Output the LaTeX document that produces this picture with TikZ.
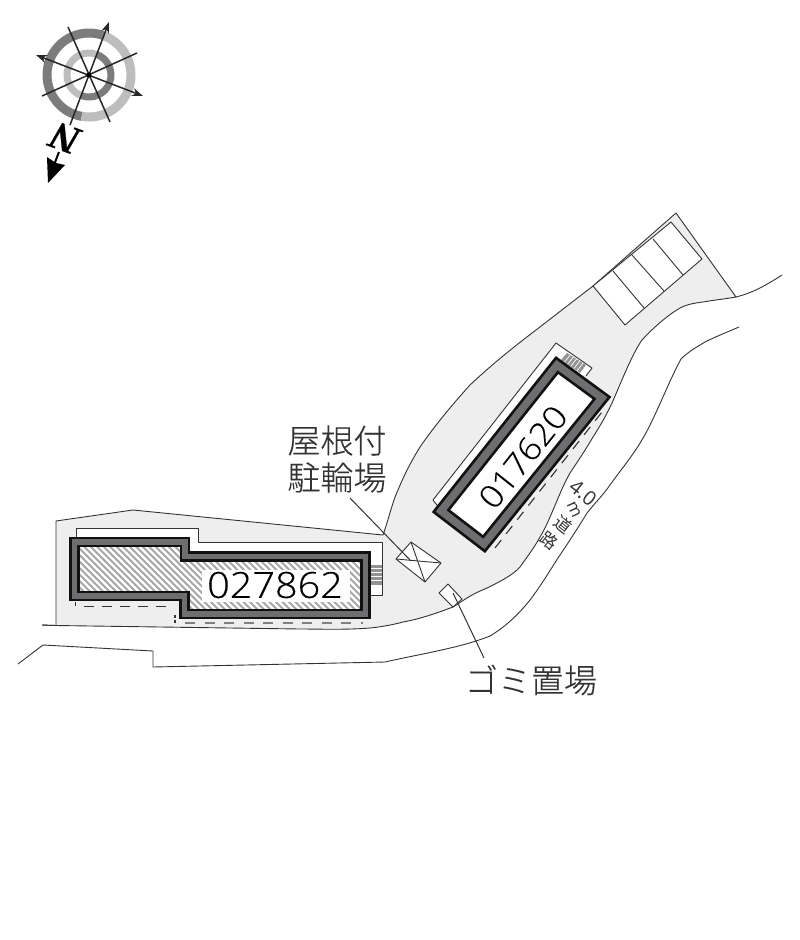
\documentclass[tikz,border=0pt]{standalone}
\usepackage{fontspec}
\setmainfont{Open Sans}
\newfontfamily\cjk[FakeBold=0.25]{Noto Sans CJK JP Light}
\newfontfamily\cjksmall{Noto Sans CJK JP}
\newfontfamily\numfont[FakeStretch=1.1,FakeBold=0.3]{Open Sans Light}
\newfontfamily\northfont[BoldFont=*,ItalicFont=*,FakeBold=0.6]{Liberation Serif Bold Italic}
\usetikzlibrary{arrows.meta,calc}
\definecolor{siteg}{HTML}{EEEEEE}
\definecolor{ink}{HTML}{333333}
\definecolor{walldark}{HTML}{111111}
\definecolor{wallg}{HTML}{6E6E70}
\definecolor{ringd}{HTML}{7C7C7C}
\definecolor{ringl}{HTML}{BDBDBD}
\tikzset{
  thinline/.style={draw=ink,line width=0.9pt,line join=round},
  leader/.style={draw=ink,line width=1pt},
  dashline/.style={draw=ink,line width=1.1pt,dash pattern=on 10pt off 8pt},
  softdash/.style={draw=gray,line width=1.8pt,dash pattern=on 10pt off 9.5pt},
  wallouter/.style={draw=walldark,line width=#1,line join=miter,miter limit=10},
  wallinner/.style={draw=wallg,line width=#1,line join=miter,miter limit=10},
  callout/.style={font=\cjk\fontsize{33}{38}\selectfont,text=ink,inner sep=0pt,align=center},
  numlabel/.style={font=\numfont\fontsize{#1}{40}\selectfont,text=black,inner sep=0pt},
  roadtext/.style={font=\cjksmall\fontsize{17}{18}\selectfont,text=ink,inner sep=0pt},
  roadlatin/.style={font=\fontsize{#1}{22}\selectfont,text=ink,inner sep=0pt},
  compline/.style={draw=black!85,line width=1.5pt},
  comparrow/.style={draw=black!85,line width=1.5pt,-{Stealth[length=11pt,width=8pt]}},
}
\def\topedge{(383,535) .. controls (389,518) and (392,503) .. (398,490) .. controls (405,473) and (412,460) .. (420,447) .. controls (436,424) and (452,405) .. (470,385) .. controls (487,369) and (505,354) .. (523,340) -- (593,286) -- (676,213) -- (736,297)}
\def\roadin{ .. controls (725,299) and (714,300) .. (703,302) .. controls (695,303) and (688,304) .. (680,308) .. controls (668,315) and (654,327) .. (642,340) .. controls (632,354) and (620,385) .. (612,403) .. controls (606,416) and (600,426) .. (593,437) .. controls (586,449) and (578,461) .. (570,473) .. controls (560,490) and (550,521) .. (540,537) .. controls (534,548) and (527,557) .. (520,567) .. controls (512,576) and (497,583) .. (487,588) .. controls (480,591) and (473,594) .. (467,598) .. controls (462,601) and (458,604) .. (453,607) .. controls (437,613) and (420,619) .. (403,622) .. controls (392,625) and (380,627) .. (370,628) .. controls (345,630) and (320,629) .. (300,629) -- (230,628) -- (56,625.5)}
\begin{document}
\begin{tikzpicture}[x=1pt,y=-1pt]
\useasboundingbox (0,0) rectangle (800,940);
% site
\fill[siteg] \topedge \roadin -- (56,521) -- (133,510) -- cycle;
\draw[thinline] (42,625) -- (56,625.5) -- (56,521) -- (133,510) -- (383,535);
\draw[thinline] \topedge \roadin -- (42,625);
\draw[thinline] (736,297) .. controls (752,293) and (765,286) .. (782,275);
% far road edge
\draw[thinline] (739,327) .. controls (725,333) and (715,337) .. (705,342) .. controls (695,348) and (688,352) .. (681,359) .. controls (672,375) and (660,405) .. (650,425) .. controls (638,450) and (622,468) .. (610,485) .. controls (603,495) and (595,503) .. (587,513) .. controls (578,528) and (568,543) .. (558,558) .. controls (549,572) and (540,587) .. (530,600) .. controls (518,615) and (505,627) .. (490,636) .. controls (460,648) and (420,654) .. (385,662) -- (153,667) -- (153,651) -- (43,645) -- (18,664);
% parking
\path[fill=white] (593,286) -- (625,325) -- (702,259) -- (671,222) -- cycle;
\draw[thinline] (593,286) -- (625,325) -- (702,259) -- (671,222) -- cycle;
\draw[thinline] (613,271) -- (644,308);
\draw[thinline] (632,255) -- (664,291);
\draw[thinline] (653,239) -- (683,275);
% building 1 surroundings
\path[fill=white] (433,500) -- (556,343) -- (592,368) -- (586,376) -- (557,365) -- (441,511) -- cycle;
\draw[thinline] (440,509) -- (433,500) -- (556,343) -- (592,368) -- (586,376);
\fill[gray!85] (567,353) -- (586,365) -- (580,373) -- (561,360) -- cycle;
\foreach \t in {0.17,0.34,0.5,0.67,0.84}{
  \draw[white,line width=0.7pt] ($(567,353)!\t!(586,365)$) -- ($(561,360)!\t!(580,373)$);
}
\draw[dashline] (495,548) -- (602,412);
\fill[white] (557,365) -- (602,398) -- (484,544) -- (441,511) -- cycle;
\draw[wallouter=13pt] (557,365) -- (602,398) -- (484,544) -- (441,511) -- cycle;
\draw[wallinner=7.5pt] (557,365) -- (602,398) -- (484,544) -- (441,511) -- cycle;
\node[numlabel=32,rotate=51.5] (b1) at (523,457) {017620};
% building 2 surroundings
\path[fill=white] (76,537) -- (76,528) -- (198,528) -- (198,542) -- (382,542) -- (382,595) -- (371,595) -- (371,552) -- (190,552) -- (190,537) -- cycle;
\draw[thinline] (76,537) -- (76,528) -- (198,528) -- (198,542) -- (382,542) -- (382,595) -- (371,595);
\fill[gray!85] (371,565) rectangle (382,585);
\foreach \yy in {568,572,576,580}{
  \draw[white,line width=0.8pt] (371,\yy) -- (382,\yy);
}
\draw[dashline] (84,606.5) -- (173,606.5);
\draw[thinline] (75,602) -- (75,606);
\draw[dashline,dash pattern=on 3pt off 2pt] (175,615) -- (175,624);
\draw[softdash] (185,623) -- (363,623);
% building 2
\fill[white] (74.5,542) -- (185,542) -- (185,556.5) -- (365.5,556.5) -- (365.5,614) -- (184.5,614) -- (184.5,596) -- (74.5,596) -- cycle;
\begin{scope}
\clip (74.5,542) -- (185,542) -- (185,556.5) -- (365.5,556.5) -- (365.5,614) -- (184.5,614) -- (184.5,596) -- (74.5,596) -- cycle;
\foreach \xx in {-20,-13.5,...,370}{
  \draw[gray!70,line width=1.9pt] (\xx,540) -- (\xx+80,620);
}
\end{scope}
\fill[white] (202,570) rectangle (350,602);
\draw[wallouter=10.5pt] (74.5,542) -- (185,542) -- (185,556.5) -- (365.5,556.5) -- (365.5,614) -- (184.5,614) -- (184.5,596) -- (74.5,596) -- cycle;
\draw[wallinner=5.5pt] (74.5,542) -- (185,542) -- (185,556.5) -- (365.5,556.5) -- (365.5,614) -- (184.5,614) -- (184.5,596) -- (74.5,596) -- cycle;
\node[numlabel=36] (b2) at (275,585) {027862};
% bike shelter
\path[fill=white] (411,542) -- (441,563) -- (425,582) -- (396,559) -- cycle;
\draw[thinline] (411,542) -- (441,563) -- (425,582) -- (396,559) -- cycle;
\draw[thinline] (411,542) -- (425,582);
\draw[thinline] (396,559) -- (441,563);
% trash
\path[fill=white] (448,584) -- (462,599) -- (453,607) -- (439,593) -- cycle;
\draw[thinline] (448,584) -- (462,599) -- (453,607) -- (439,593) -- cycle;
% labels
\node[callout] (shelter) at (337,459) {屋根付\\[-1pt]駐輪場};
\node[callout] (trash) at (531,680) {ゴミ置場};
\coordinate (shelterfrom) at (350,498);
\coordinate (shelterto) at (411,561);
\coordinate (trashfrom) at (484,658);
\coordinate (trashto) at (453,593);
\draw[leader] (shelterfrom) -- (shelterto);
\draw[leader] (trashfrom) -- (trashto);
% road label
\node[roadlatin=20,rotate=-38] (rw) at (583,493) {4.0};
\node[roadlatin=17,rotate=-65] (rm) at (574,510) {m};
\node[roadtext,rotate=-38] (rd) at (563,525) {道};
\node[roadtext,rotate=-38] (rr) at (549,541) {路};
% compass
\coordinate (cc) at (89,75);
\draw[ringd,line width=9pt] ([shift={(-70:42)}]cc) arc[start angle=-70,end angle=-260,radius=42];
\draw[ringl,line width=9pt] ([shift={(-70:42)}]cc) arc[start angle=-70,end angle=100,radius=42];
\draw[ringl,line width=7pt] ([shift={(-70:22)}]cc) arc[start angle=-70,end angle=-250,radius=22];
\draw[ringd,line width=7pt] ([shift={(-70:22)}]cc) arc[start angle=-70,end angle=110,radius=22];
\coordinate (c1a) at (70,125);
\coordinate (c1b) at (109,22);
\coordinate (c2a) at (36,55);
\coordinate (c2b) at (143,96);
\coordinate (c3a) at (68,27);
\coordinate (c3b) at (110,122);
\coordinate (c4a) at (42,96);
\coordinate (c4b) at (137,53);
\draw[comparrow] (c1a) -- (c1b);
\draw[comparrow,{Stealth[length=11pt,width=8pt]}-{Stealth[length=11pt,width=8pt]}] (c2a) -- (c2b);
\draw[compline] (c3a) -- (c3b);
\draw[compline] (c4a) -- (c4b);
\fill[black] (cc) circle (2.5);
\node[inner sep=0pt,rotate=160,font=\northfont\fontsize{40}{40}\selectfont] (north) at (65,138) {N};
\draw[black,line width=2pt] (59,152) -- (54,165);
\fill[black] (48,183) -- (47,157) -- (56,163) -- (65,165) -- cycle;
\end{tikzpicture}
\end{document}
